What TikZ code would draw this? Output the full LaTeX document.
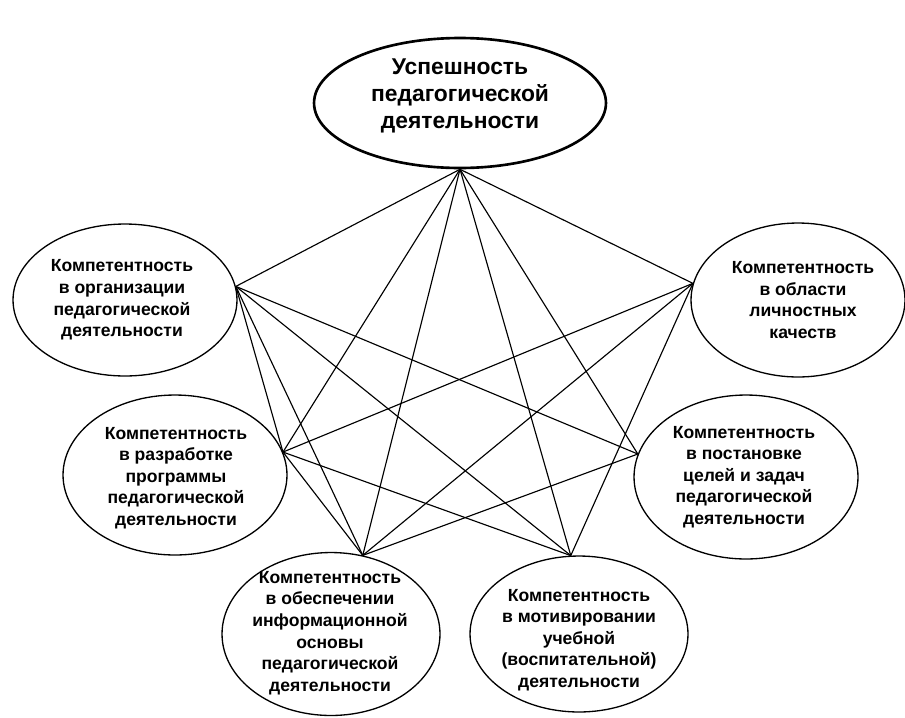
\documentclass[tikz,border=0pt]{standalone}
\usepackage{fontspec}
\setmainfont{Liberation Sans}
\usetikzlibrary{shapes.geometric}
\begin{document}
\begin{tikzpicture}[x=0.02cm,y=-0.02cm,
	oval/.style={draw,ellipse,inner sep=0pt,line width=0.75pt},
	txt/.style={align=center,font=\bfseries\fontsize{10}{12.3}\selectfont},
	link/.style={line width=0.65pt}]
	\useasboundingbox (0,0) rectangle (905,717);
	\node[oval,line width=1.5pt,minimum width=5.84cm,minimum height=2.6cm] (T) at (460,103) {};
	\node[oval,minimum width=4.48cm,minimum height=3.04cm] (A) at (125,300) {};
	\node[oval,minimum width=4.48cm,minimum height=3.2cm] (B) at (175,475) {};
	\node[oval,minimum width=4.36cm,minimum height=3.26cm] (C) at (331,634) {};
	\node[oval,minimum width=4.36cm,minimum height=3.12cm] (D) at (579,634) {};
	\node[oval,minimum width=4.28cm,minimum height=3.08cm] (E) at (798,300) {};
	\node[oval,minimum width=4.48cm,minimum height=3.28cm] (F) at (746,477) {};
	\node[txt,font=\bfseries\fontsize{13}{15.2}\selectfont] (tT) at (460,96) {Успешность\\педагогической\\деятельности};
	\node[txt] (tA) at (122,300) {Компетентность\\в организации\\педагогической\\деятельности};
	\node[txt] (tB) at (176,478) {Компетентность\\в разработке\\программы\\педагогической\\деятельности};
	\node[txt] (tC) at (330,633) {Компетентность\\в обеспечении\\информационной\\основы\\педагогической\\деятельности};
	\node[txt] (tD) at (579,640) {Компетентность\\в мотивировании\\учебной\\(воспитательной)\\деятельности};
	\node[txt] (tE) at (803,300) {Компетентность\\в области\\личностных\\качеств};
	\node[txt] (tF) at (744,477) {Компетентность\\в постановке\\целей и задач\\педагогической\\деятельности};
	\coordinate (pT) at (T.south);
	\coordinate (pA) at (A.7);
	\coordinate (pB) at (B.12);
	\coordinate (pC) at (C.68);
	\coordinate (pD) at (D.96);
	\coordinate (pE) at (E.171);
	\coordinate (pF) at (F.168);
	\foreach \a/\b in {pT/pA,pT/pB,pT/pC,pT/pD,pT/pE,pT/pF,pA/pB,pA/pC,pA/pD,pA/pF,
		pB/pC,pB/pD,pB/pE,pC/pE,pC/pF,pD/pE}
		\draw[link] (\a) -- (\b);
\end{tikzpicture}
\end{document}
